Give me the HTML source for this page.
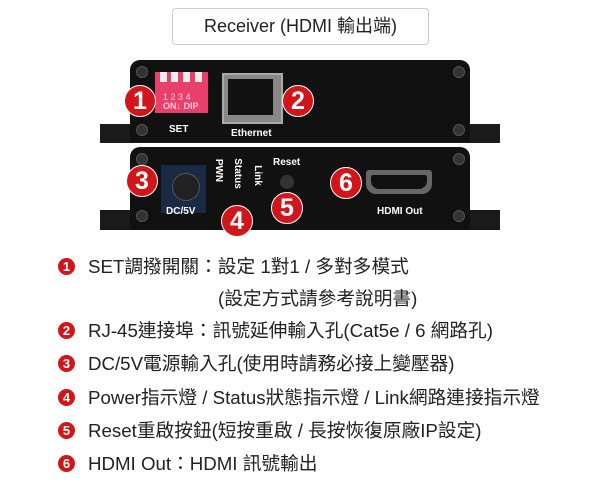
<!DOCTYPE html><html><head><meta charset="utf-8"><style>
body{margin:0;width:600px;height:494px;background:#fff;position:relative;overflow:hidden;font-family:"Liberation Sans","Noto Sans CJK TC",sans-serif}
.a{position:absolute}
.t{position:absolute;color:#fff;font-weight:bold;font-size:10px;white-space:nowrap}
.c{position:absolute;border-radius:50%;background:#d2151b;color:#fff;text-align:center;font-weight:bold}
.big{width:30px;height:30px;line-height:31px;font-size:25px;border:1px solid #fff;margin:-16px 0 0 -16px}
.sm{width:17px;height:17px;line-height:18px;font-size:13px}
.l{position:absolute;left:88px;font-size:18.7px;color:#222;white-space:nowrap}
.scr{position:absolute;width:10px;height:10px;border-radius:50%;background:#333;border:1px solid #555}
</style></head><body>
<div class="a" style="left:172px;top:8px;width:255px;height:35px;border:1px solid #ccc;border-radius:4px;text-align:center;line-height:35px;font-size:18px;color:#222">Receiver (HDMI 輸出端)</div>
<!-- device 1 -->
<div class="a" style="left:100px;top:124px;width:400px;height:19px;background:#1a1a1a"></div>
<div class="a" style="left:130px;top:60px;width:340px;height:82px;background:#111;border-radius:10px 10px 0 0"></div>
<div class="scr" style="left:136px;top:66px"></div><div class="scr" style="left:453px;top:66px"></div>
<div class="scr" style="left:136px;top:124px"></div><div class="scr" style="left:453px;top:124px"></div>
<div class="a" style="left:155px;top:72px;width:53px;height:41px;background:#e8406a"></div>
<div class="a" style="left:160px;top:72px;width:7px;height:10px;background:#eee"></div>
<div class="a" style="left:171px;top:72px;width:7px;height:10px;background:#eee"></div>
<div class="a" style="left:183px;top:72px;width:7px;height:10px;background:#eee"></div>
<div class="a" style="left:195px;top:72px;width:7px;height:10px;background:#eee"></div>
<div class="t" style="left:163px;top:92px;font-size:9px;font-weight:normal;color:#fcd">1 2 3 4</div>
<div class="t" style="left:163px;top:101px;font-size:9px;color:#fcd">ON↓ DIP</div>
<div class="a" style="left:222px;top:73px;width:57px;height:47px;background:#888;border:2px solid #aaa"></div>
<div class="a" style="left:228px;top:79px;width:45px;height:36px;background:#111"></div>
<div class="c big" style="left:140px;top:101px">1</div>
<div class="c big" style="left:298px;top:101px">2</div>
<div class="t" style="left:169px;top:124px">SET</div>
<div class="t" style="left:231px;top:128px">Ethernet</div>
<!-- device 2 -->
<div class="a" style="left:100px;top:210px;width:400px;height:20px;background:#1a1a1a"></div>
<div class="a" style="left:130px;top:147px;width:340px;height:83px;background:#111;border-radius:10px 10px 0 0"></div>
<div class="scr" style="left:136px;top:153px"></div><div class="scr" style="left:453px;top:153px"></div>
<div class="scr" style="left:136px;top:210px"></div><div class="scr" style="left:453px;top:210px"></div>
<div class="a" style="left:161px;top:165px;width:45px;height:48px;background:#1b2a44"></div>
<div class="a" style="left:172px;top:173px;width:26px;height:26px;border-radius:50%;background:#222;border:1px solid #555"></div>
<div class="t" style="left:207px;top:165px;transform:rotate(90deg)">PWN</div>
<div class="t" style="left:222px;top:168px;transform:rotate(90deg)">Status</div>
<div class="t" style="left:247px;top:170px;transform:rotate(90deg)">Link</div>
<div class="t" style="left:273px;top:157px">Reset</div>
<div class="a" style="left:280px;top:175px;width:14px;height:14px;border-radius:50%;background:#333"></div>
<div class="a" style="left:366px;top:170px;width:66px;height:24px;background:#666;border-radius:3px 3px 10px 10px"></div>
<div class="a" style="left:371px;top:175px;width:56px;height:14px;background:#111;border-radius:2px 2px 8px 8px"></div>
<div class="t" style="left:166px;top:206px">DC/5V</div>
<div class="t" style="left:377px;top:206px">HDMI Out</div>
<div class="c big" style="left:142px;top:181px">3</div>
<div class="c big" style="left:237px;top:221px">4</div>
<div class="c big" style="left:287px;top:208px">5</div>
<div class="c big" style="left:346px;top:183px">6</div>
<!-- legend -->
<div class="c sm" style="left:58px;top:258px">1</div><div class="l" style="top:252px">SET調撥開關：設定 1對1 / 多對多模式</div>
<div class="l" style="left:218px;top:284px">(設定方式請參考說明書)</div>
<div class="c sm" style="left:58px;top:322px">2</div><div class="l" style="top:316px">RJ-45連接埠：訊號延伸輸入孔(Cat5e / 6 網路孔)</div>
<div class="c sm" style="left:58px;top:355px">3</div><div class="l" style="top:349px">DC/5V電源輸入孔(使用時請務必接上變壓器)</div>
<div class="c sm" style="left:58px;top:389px">4</div><div class="l" style="top:383px">Power指示燈 / Status狀態指示燈 / Link網路連接指示燈</div>
<div class="c sm" style="left:58px;top:422px">5</div><div class="l" style="top:416px">Reset重啟按鈕(短按重啟 / 長按恢復原廠IP設定)</div>
<div class="c sm" style="left:58px;top:455px">6</div><div class="l" style="top:449px">HDMI Out：HDMI 訊號輸出</div>
</body></html>
